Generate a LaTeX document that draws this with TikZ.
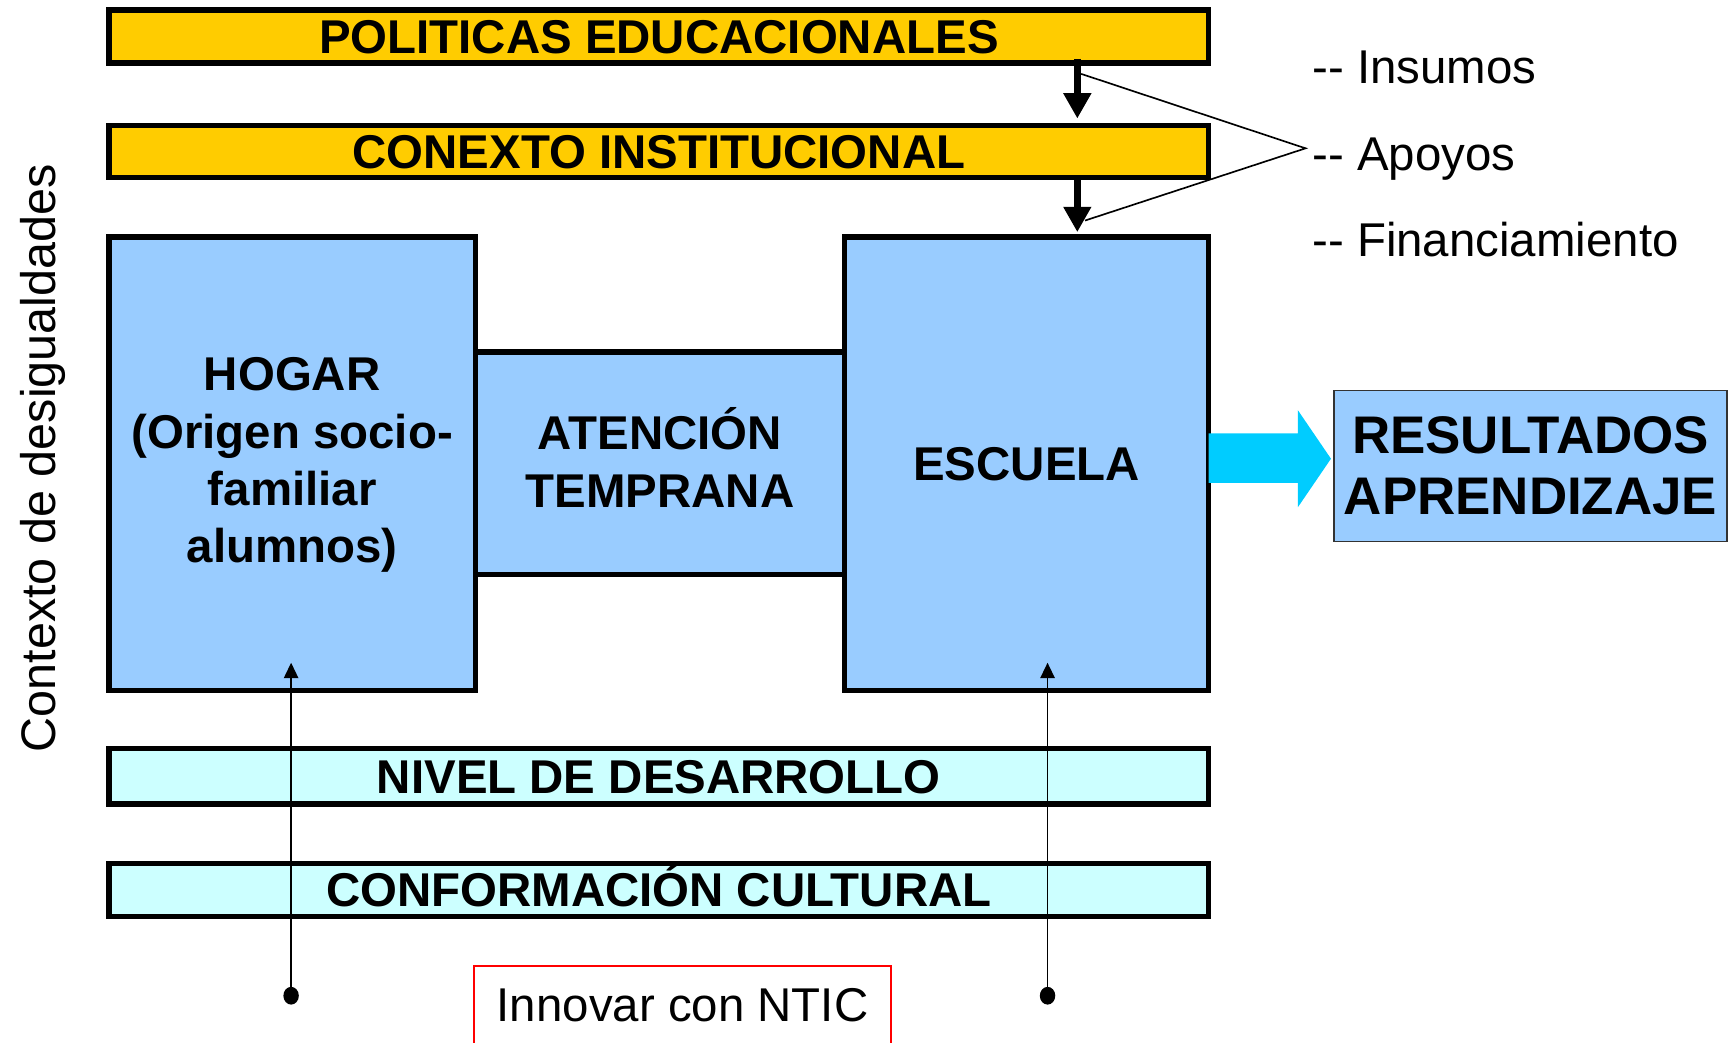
\documentclass[tikz,border=0pt]{standalone}
\usepackage{fontspec}
\setmainfont{Liberation Sans}
\usetikzlibrary{arrows.meta}
\definecolor{gold}{HTML}{FFCC00}
\definecolor{lblue}{HTML}{99CCFF}
\definecolor{lcyan}{HTML}{CCFFFF}
\definecolor{acyan}{HTML}{00CCFF}
\definecolor{nred}{HTML}{FF0000}
\begin{document}
\begin{tikzpicture}[x=1pt,y=-1pt,
  bar/.style={draw=black, line width=5pt, minimum width=997pt, inner sep=0pt,
    font=\fontsize{43}{52}\selectfont\bfseries, text height=31pt, text depth=0pt},
  goldbar/.style={bar, fill=gold},
  cyanbar/.style={bar, fill=lcyan},
  bluebox/.style={draw=black, line width=5pt, fill=lblue, inner sep=0pt, align=center,
    font=\fontsize{43}{52}\selectfont\bfseries},
  resbox/.style={draw=black!80, line width=1.5pt, fill=lblue, inner sep=0pt, align=center,
    font=\fontsize{48}{56}\selectfont\bfseries},
  bigarrow/.style={line width=6pt, -{Triangle[length=23pt,width=24pt]}},
  thinarrow/.style={line width=1.5pt, -{Triangle[length=14pt,width=13pt]}},
  thinline/.style={line width=1.5pt},
  dot/.style={fill=black, ellipse-like, inner sep=0pt},
  ellipse-like/.style={circle, minimum size=14pt, yscale=1.15},
  sidelabel/.style={anchor=base west, inner sep=0pt, font=\fontsize{43}{52}\selectfont},
]
\useasboundingbox (0,0) rectangle (1568,945);

% bars
\node[goldbar, minimum height=48pt] (pol) at (597.5,33) {POLITICAS EDUCACIONALES};
\node[goldbar, minimum height=47pt] (con) at (597.5,137.5) {CONEXTO INSTITUCIONAL};
\node[cyanbar, minimum height=50pt] (niv) at (597.5,704) {NIVEL DE DESARROLLO};
\node[cyanbar, minimum height=48pt] (cul) at (597.5,807) {CONFORMACIÓN CULTURAL};

% boxes
\node[bluebox, minimum width=332pt, minimum height=411pt, text depth=6pt] (hogar) at (265,420.5)
  {HOGAR\\(Origen socio-\\familiar\\alumnos)};
\node[bluebox, minimum width=335pt, minimum height=202pt, text depth=10pt] (aten) at (598.5,420)
  {ATENCIÓN\\TEMPRANA};
\node[bluebox, minimum width=330pt, minimum height=411pt] (esc) at (931,420.5) {ESCUELA};
\node[resbox, minimum width=356pt, minimum height=137pt] (res) at (1388,422.5)
  {RESULTADOS\\APRENDIZAJE};

% big cyan arrow
\fill[acyan] (1096,393) -- (1177,393) -- (1177,372) -- (1207,416) -- (1177,460)
  -- (1177,438) -- (1096,438) -- cycle;

% black arrows between the top levels
\coordinate (ax) at (977,0);
\draw[bigarrow] ([yshift=6pt]pol.south -| ax) -- ([yshift=4pt]con.north -| ax);
\draw[bigarrow] (con.south -| ax) -- ([yshift=2pt]esc.north -| ax);

% brace lines to the labels
\coordinate (i1) at (980.5,67);
\coordinate (i2) at (984,200);
\coordinate (apex) at (1184,134.5);
\draw[thinline] (i1) -- (apex) -- (i2);

\node[sidelabel] (ins) at (1190,76) {-{}- Insumos};
\node[sidelabel] (apo) at (1190,155) {-{}- Apoyos};
\node[sidelabel] (fin) at (1190,233) {-{}- Financiamiento};

% side label
\node[rotate=90, anchor=base, inner sep=0pt, font=\fontsize{44}{52}\selectfont] (ctx)
  at (50,415.5) {Contexto de desigualdades};

% innovation box
\node[draw=nred, line width=2pt, minimum width=378pt, minimum height=72pt, inner sep=0pt,
  font=\fontsize{43}{52}\selectfont] (ntic) at (619,912) {Innovar con NTIC};

% dots and upward arrows
\node[dot] (d1) at (264,903) {};
\node[dot] (d2) at (950,903) {};
\coordinate (t1) at (264,601);
\coordinate (t2) at (950,601);
\draw[thinarrow] (d1.center) -- (t1);
\draw[thinarrow] (d2.center) -- (t2);
\end{tikzpicture}
\end{document}
